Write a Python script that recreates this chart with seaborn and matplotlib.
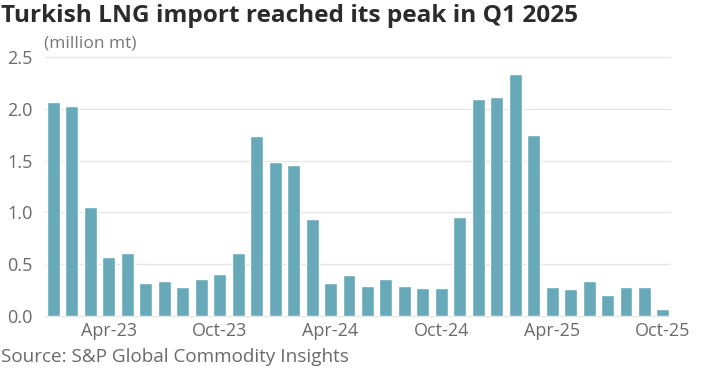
import matplotlib
matplotlib.use("Agg")
import matplotlib.pyplot as plt
import seaborn as sns
import pandas as pd

months = ["Jan-23","Feb-23","Mar-23","Apr-23","May-23","Jun-23","Jul-23","Aug-23","Sep-23","Oct-23","Nov-23","Dec-23",
          "Jan-24","Feb-24","Mar-24","Apr-24","May-24","Jun-24","Jul-24","Aug-24","Sep-24","Oct-24","Nov-24","Dec-24",
          "Jan-25","Feb-25","Mar-25","Apr-25","May-25","Jun-25","Jul-25","Aug-25","Sep-25","Oct-25"]
values = [2.07, 2.03, 1.05, 0.57, 0.61, 0.32, 0.34, 0.28, 0.36, 0.41, 0.61, 1.74,
          1.49, 1.46, 0.94, 0.32, 0.40, 0.29, 0.36, 0.29, 0.27, 0.27, 0.96, 2.09,
          2.11, 2.34, 1.75, 0.28, 0.26, 0.34, 0.20, 0.28, 0.28, 0.07]
tick_labels = ["Apr-23", "Oct-23", "Apr-24", "Oct-24", "Apr-25", "Oct-25"]

df = pd.DataFrame({"month": months, "value": values})

sns.set_theme(style="white")
plt.rcParams["font.family"] = ["Open Sans", "DejaVu Sans"]

fig = plt.figure(figsize=(7.03, 3.70), dpi=100)
ax = fig.add_axes([0.064, 0.146, 0.889, 0.700])

sns.barplot(data=df, x="month", y="value", color="#67a9b9", saturation=1,
            width=0.7, ax=ax, zorder=3)

ax.set_ylim(0, 2.5)
ax.set_xlim(-0.46, 33.38)
ax.set_yticks([0, 0.5, 1.0, 1.5, 2.0, 2.5])
ax.set_yticklabels(["0.0", "0.5", "1.0", "1.5", "2.0", "2.5"])
ax.yaxis.grid(True, color="#e6e6e6", linewidth=1, zorder=0)
for gl in ax.get_ygridlines():
    gl.set_clip_on(False)
ticks = [months.index(m) for m in tick_labels]
ax.set_xticks(ticks)
ax.set_xticklabels(tick_labels)
ax.tick_params(axis="both", length=0, labelsize=13, colors="#6a6a6a")
ax.tick_params(axis="y", pad=9)
ax.tick_params(axis="x", pad=4)
for s in ax.spines.values():
    s.set_visible(False)
ax.set_xlabel("")
ax.set_ylabel("")

fig.text(0.002, 0.958, "Turkish LNG import reached its peak in Q1 2025", fontsize=17.6,
         fontweight="bold", color="#2b2b2b", ha="left", va="center")
fig.text(0.062, 0.882, "(million mt)", fontsize=12.5, color="#777777", ha="left", va="center")
fig.text(0.002, 0.036, "Source: S&P Global Commodity Insights", fontsize=13.6,
         color="#6a6a6a", ha="left", va="center")

fig.savefig("out.png", dpi=100)
